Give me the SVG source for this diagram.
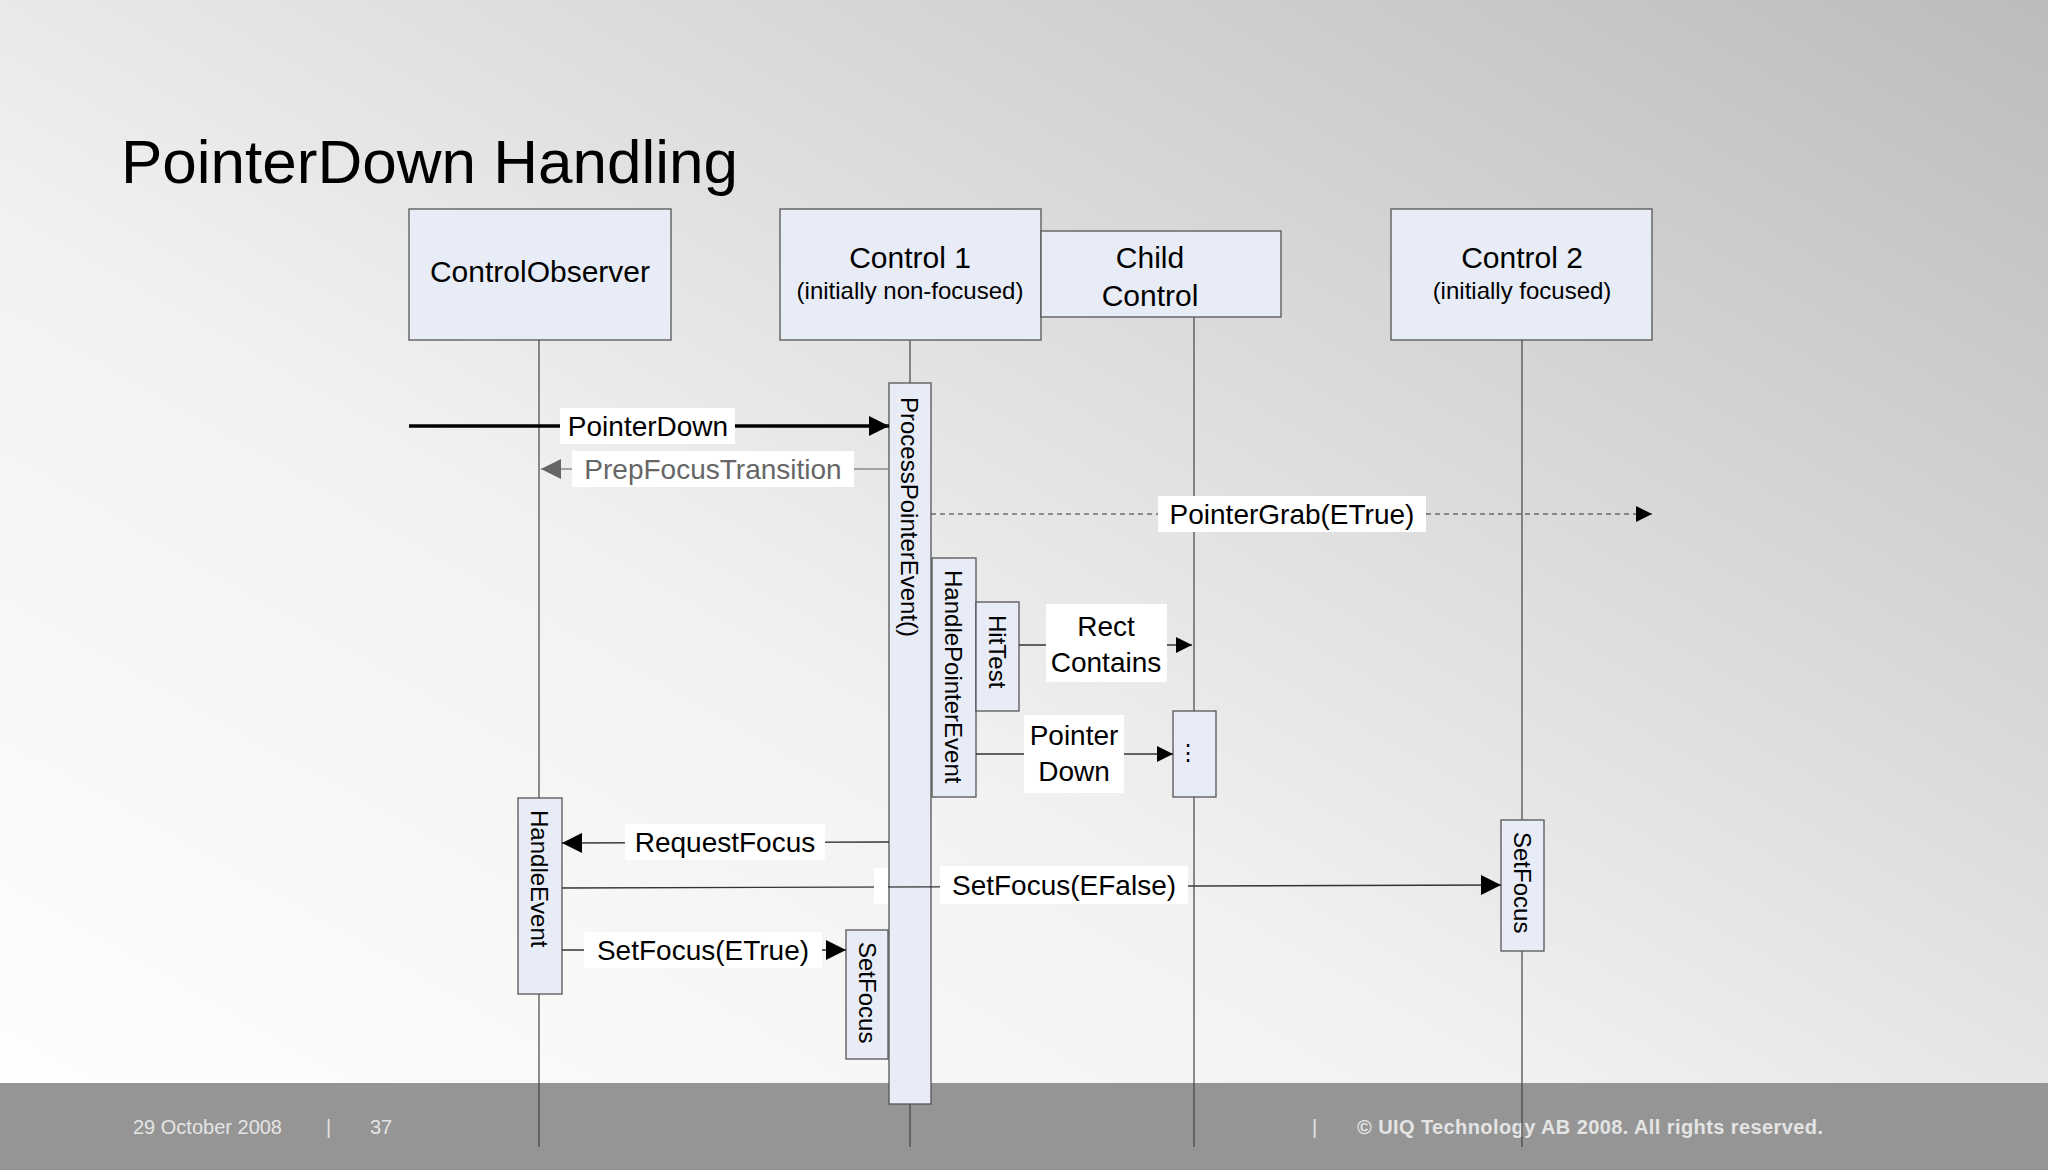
<svg xmlns="http://www.w3.org/2000/svg" width="2048" height="1170" viewBox="0 0 2048 1170">
<defs>
<linearGradient id="bg" x1="1" y1="0" x2="0" y2="1">
<stop offset="0" stop-color="#bcbcbc"/><stop offset="0.6" stop-color="#f2f2f2"/><stop offset="1" stop-color="#ffffff"/>
</linearGradient>
<marker id="ahm" viewBox="0 0 10 10" refX="10" refY="5" markerWidth="16" markerHeight="16" markerUnits="userSpaceOnUse" orient="auto"><path d="M0,0L10,5L0,10z" fill="#000"/></marker>
<marker id="ahb" viewBox="0 0 10 10" refX="10" refY="5" markerWidth="20" markerHeight="20" markerUnits="userSpaceOnUse" orient="auto"><path d="M0,0L10,5L0,10z" fill="#000"/></marker>
<marker id="ahg" viewBox="0 0 10 10" refX="10" refY="5" markerWidth="20" markerHeight="20" markerUnits="userSpaceOnUse" orient="auto"><path d="M0,0L10,5L0,10z" fill="#666"/></marker>
<style>
text{font-family:"Liberation Sans",Arial,sans-serif;fill:#000}
.box{fill:#e8ecf6;stroke:#555;stroke-width:1.3}
.act{fill:#e8ecf6;stroke:#555;stroke-width:1.3}
.life{stroke:#444;stroke-width:1.2}
.msg{stroke:#333;stroke-width:1.3;fill:none}
.lbl{font-size:28px;text-anchor:middle}
.lb{fill:#fff}
.vt{font-size:24px;text-anchor:start}
.ft{font-size:20px;fill:#e4e4e4}
</style>
</defs>
<rect width="2048" height="1170" fill="url(#bg)"/>
<rect y="1083" width="2048" height="87" fill="#959595"/>
<text x="121" y="183" font-size="62">PointerDown Handling</text>
<g id="footer">
<text class="ft" x="133" y="1134">29 October 2008</text>
<text class="ft" x="326" y="1134">|</text>
<text class="ft" x="370" y="1134">37</text>
<text class="ft" x="1312" y="1134">|</text>
<text class="ft" x="1357" y="1134" font-weight="bold" textLength="466">© UIQ Technology AB 2008. All rights reserved.</text>
</g>
<g id="lifelines">
<line class="life" x1="539" y1="340" x2="539" y2="1147"/>
<line class="life" x1="910" y1="340" x2="910" y2="1147"/>
<line class="life" x1="1194" y1="317" x2="1194" y2="1147"/>
<line class="life" x1="1522" y1="340" x2="1522" y2="1147"/>
</g>
<g id="ControlObserver"><rect class="box" x="409" y="209" width="262" height="131"/><text x="540" y="282" font-size="30" text-anchor="middle">ControlObserver</text></g>
<g id="Control1"><rect class="box" x="780" y="209" width="261" height="131"/><text x="910" y="268" font-size="30" text-anchor="middle">Control 1</text><text x="910" y="299" font-size="24" text-anchor="middle">(initially non-focused)</text></g>
<g id="ChildControl"><rect class="box" x="1041" y="231" width="240" height="86"/><text x="1150" y="268" font-size="30" text-anchor="middle">Child</text><text x="1150" y="306" font-size="30" text-anchor="middle">Control</text></g>
<g id="Control2"><rect class="box" x="1391" y="209" width="261" height="131"/><text x="1522" y="268" font-size="30" text-anchor="middle">Control 2</text><text x="1522" y="299" font-size="24" text-anchor="middle">(initially focused)</text></g>
<g id="act-ProcessPointerEvent"><rect class="act" x="889" y="383" width="42" height="721"/><text class="vt" transform="translate(901,397) rotate(90)">ProcessPointerEvent()</text></g>
<g id="act-HandlePointerEvent"><rect class="act" x="932" y="558" width="44" height="239"/><text class="vt" transform="translate(945,570) rotate(90)">HandlePointerEvent</text></g>
<g id="act-HitTest"><rect class="act" x="976" y="602" width="43" height="109"/><text class="vt" transform="translate(989,615) rotate(90)">HitTest</text></g>
<g id="act-Child"><rect class="act" x="1173" y="711" width="43" height="86"/><text x="1188" y="760" font-size="22" text-anchor="middle">⋮</text></g>
<g id="act-HandleEvent"><rect class="act" x="518" y="798" width="44" height="196"/><text class="vt" transform="translate(531,810) rotate(90)">HandleEvent</text></g>
<g id="act-SetFocus1"><rect class="act" x="846" y="930" width="42" height="129"/><text class="vt" transform="translate(859,942) rotate(90)">SetFocus</text></g>
<g id="act-SetFocus2"><rect class="act" x="1501" y="820" width="43" height="131"/><text class="vt" transform="translate(1514,832) rotate(90)">SetFocus</text></g>
<g id="connectors">
<line x1="409" y1="426" x2="889" y2="426" stroke="#000" stroke-width="3.5" marker-end="url(#ahb)"/>
<rect class="lb" x="560" y="408" width="175" height="36"/><text class="lbl" x="648" y="436">PointerDown</text>
<line x1="889" y1="469" x2="541" y2="469" stroke="#888" stroke-width="1.3" marker-end="url(#ahg)"/>
<rect class="lb" x="572" y="451" width="282" height="36"/><text class="lbl" x="713" y="479" style="fill:#666">PrepFocusTransition</text>
<line x1="931" y1="514" x2="1652" y2="514" stroke="#333" stroke-width="1.2" stroke-dasharray="5,4" marker-end="url(#ahm)"/>
<rect class="lb" x="1158" y="496" width="268" height="36"/><text class="lbl" x="1292" y="524">PointerGrab(ETrue)</text>
<line class="msg" x1="1019" y1="645" x2="1192" y2="645" marker-end="url(#ahm)"/>
<rect class="lb" x="1046" y="604" width="121" height="78"/><text class="lbl" x="1106" y="636">Rect</text><text class="lbl" x="1106" y="672">Contains</text>
<line class="msg" x1="976" y1="754" x2="1173" y2="754" marker-end="url(#ahm)"/>
<rect class="lb" x="1024" y="715" width="100" height="78"/><text class="lbl" x="1074" y="745">Pointer</text><text class="lbl" x="1074" y="781">Down</text>
<line class="msg" x1="889" y1="842" x2="562" y2="843" marker-end="url(#ahb)"/>
<rect class="lb" x="625" y="824" width="200" height="36"/><text class="lbl" x="725" y="852">RequestFocus</text>
<line class="msg" x1="562" y1="888" x2="1501" y2="885" marker-end="url(#ahb)"/>
<rect class="lb" x="874" y="868" width="14" height="36"/>
<rect class="lb" x="940" y="866" width="248" height="38"/><text class="lbl" x="1064" y="895">SetFocus(EFalse)</text>
<line class="msg" x1="562" y1="950" x2="846" y2="950" marker-end="url(#ahb)"/>
<rect class="lb" x="584" y="932" width="238" height="36"/><text class="lbl" x="703" y="960">SetFocus(ETrue)</text>
</g>
</svg>
